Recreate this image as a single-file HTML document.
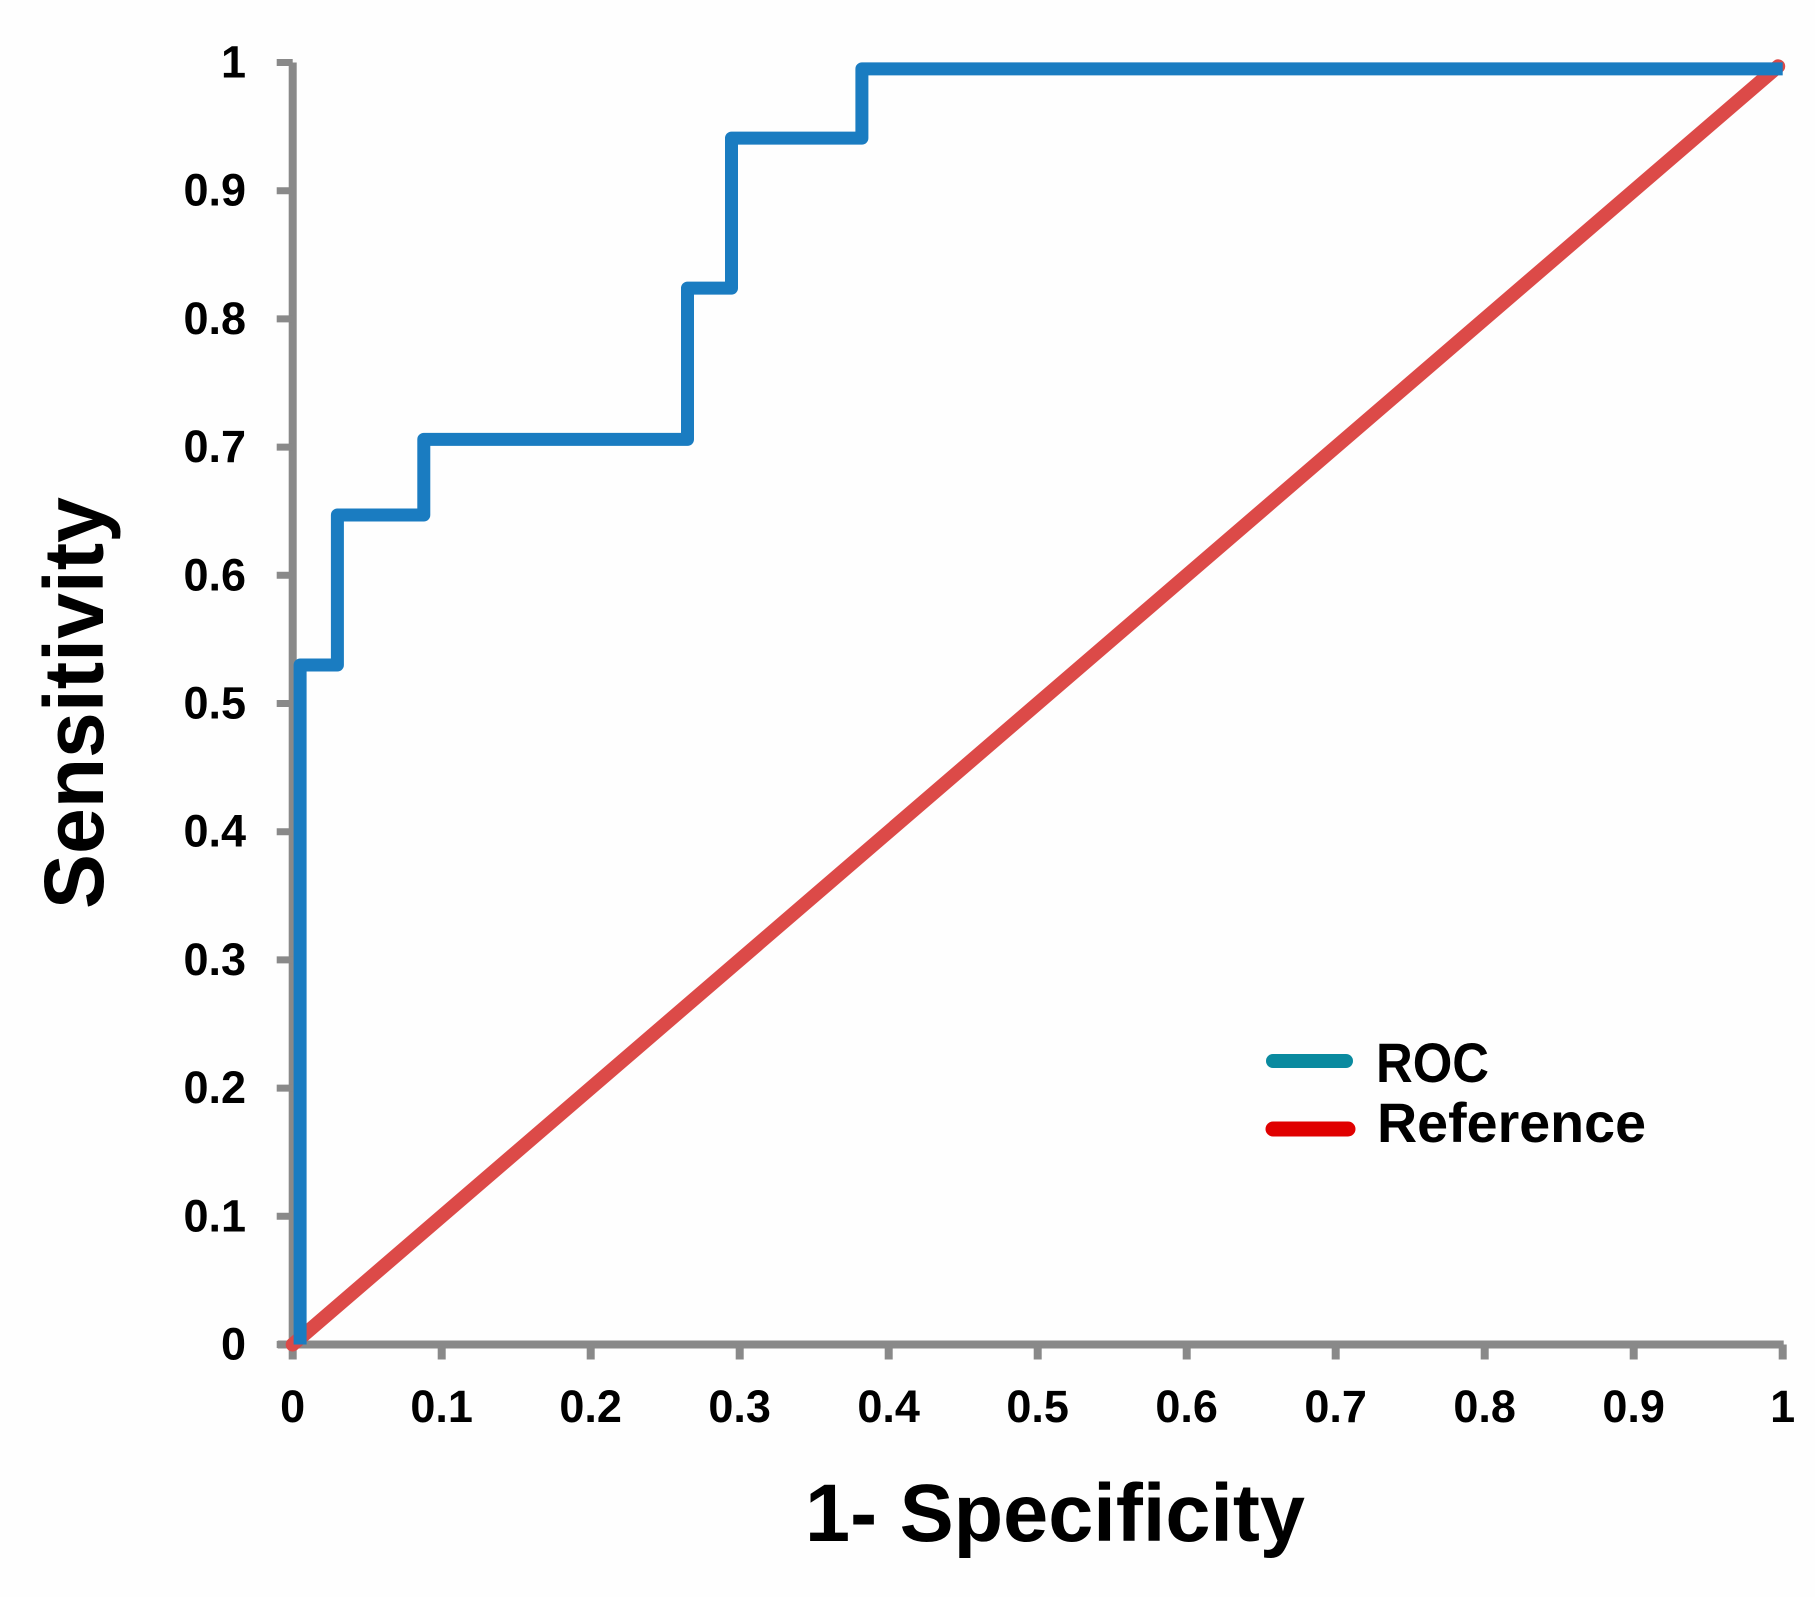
<!DOCTYPE html>
<html lang="en">
<head>
<meta charset="utf-8">
<title>ROC curve</title>
<style>
  html, body { margin: 0; padding: 0; background: #fefefe; }
  svg { display: block; }
  text { font-family: "Liberation Sans", sans-serif; font-weight: bold; fill: #000; }
</style>
</head>
<body>
<svg id="chart" xmlns="http://www.w3.org/2000/svg" width="1815" height="1597" viewBox="0 0 1815 1597">
  <g id="axes"></g>
  <g id="series"></g>
  <g id="tick-labels"></g>
  <text x="805" y="1541" font-size="82" textLength="500" lengthAdjust="spacingAndGlyphs">1- Specificity</text>
  <text transform="translate(103 909) rotate(-90)" font-size="84" textLength="412" lengthAdjust="spacingAndGlyphs">Sensitivity</text>
  <g>
    <line x1="1273" y1="1061" x2="1346" y2="1061" stroke="#0a8a9f" stroke-width="14" stroke-linecap="round"/>
    <text x="1376" y="1082" font-size="56" textLength="113" lengthAdjust="spacingAndGlyphs">ROC</text>
    <line x1="1273" y1="1129" x2="1348" y2="1129" stroke="#e00000" stroke-width="15" stroke-linecap="round"/>
    <text x="1377" y="1142" font-size="56" textLength="269" lengthAdjust="spacingAndGlyphs">Reference</text>
  </g>
</svg>
<script>
const xTickValues = [0, 0.1, 0.2, 0.3, 0.4, 0.5, 0.6, 0.7, 0.8, 0.9, 1];
const xTickLabels = ["0", "0.1", "0.2", "0.3", "0.4", "0.5", "0.6", "0.7", "0.8", "0.9", "1"];
const yTickValues = [0, 0.1, 0.2, 0.3, 0.4, 0.5, 0.6, 0.7, 0.8, 0.9, 1];
const yTickLabels = ["0", "0.1", "0.2", "0.3", "0.4", "0.5", "0.6", "0.7", "0.8", "0.9", "1"];
const rocFpr = [0.005, 0.005, 0.03, 0.03, 0.088, 0.088, 0.265, 0.265, 0.2945, 0.2945, 0.382, 0.382, 1];
const rocTpr = [0, 0.53, 0.53, 0.647, 0.647, 0.706, 0.706, 0.824, 0.824, 0.941, 0.941, 0.995, 0.995];
const referenceFpr = [0, 0.997];
const referenceTpr = [0, 0.997];

const SVG_NS = "http://www.w3.org/2000/svg";
const xScale = function (v) { return 292.7 + v * 1490; };
const yScale = function (v) { return 1344.5 - v * 1282; };

function make(tag, parent, attrs) {
  const el = document.createElementNS(SVG_NS, tag);
  Object.keys(attrs).forEach(function (k) { el.setAttribute(k, attrs[k]); });
  parent.appendChild(el);
  return el;
}

const axes = document.getElementById("axes");
const series = document.getElementById("series");
const labels = document.getElementById("tick-labels");
const AXIS = "#898989";

const yAxis = make("line", axes, { x1: xScale(0), y1: yScale(1), x2: xScale(0), y2: yScale(0) + 4, stroke: AXIS, "stroke-width": 8 });



const xAxis = make("line", axes, { x1: xScale(0) - 15, y1: yScale(0), x2: xScale(1) + 1, y2: yScale(0), stroke: AXIS, "stroke-width": 8 });



yTickValues.forEach(function (v, i) {
  const tick = make("line", axes, { x1: xScale(0) - 16, y1: yScale(v), x2: xScale(0), y2: yScale(v), stroke: AXIS, "stroke-width": 7 });
  
  
  const label = make("text", labels, { x: 246, y: yScale(v) + 15, "font-size": 45, "text-anchor": "end" });
  label.textContent = yTickLabels[i];
  
  
});

xTickValues.forEach(function (v, i) {
  const tick = make("line", axes, { x1: xScale(v), y1: yScale(0), x2: xScale(v), y2: yScale(0) + 15, stroke: AXIS, "stroke-width": 8 });
  
  
  const label = make("text", labels, { x: xScale(v), y: 1422, "font-size": 45, "text-anchor": "middle" });
  label.textContent = xTickLabels[i];
  
  
});

function linePoints(xs, ys) {
  return xs.map(function (x, i) { return xScale(x).toFixed(1) + "," + yScale(ys[i]).toFixed(1); }).join(" ");
}

const referenceLine = make("polyline", series, { points: linePoints(referenceFpr, referenceTpr), fill: "none", stroke: "#dc4a48", "stroke-width": 14, "stroke-linecap": "round" });



const rocLine = make("polyline", series, { points: linePoints(rocFpr, rocTpr), fill: "none", stroke: "#1a7cc1", "stroke-width": 13, "stroke-linejoin": "round", "stroke-linecap": "butt" });


</script>
</body>
</html>
